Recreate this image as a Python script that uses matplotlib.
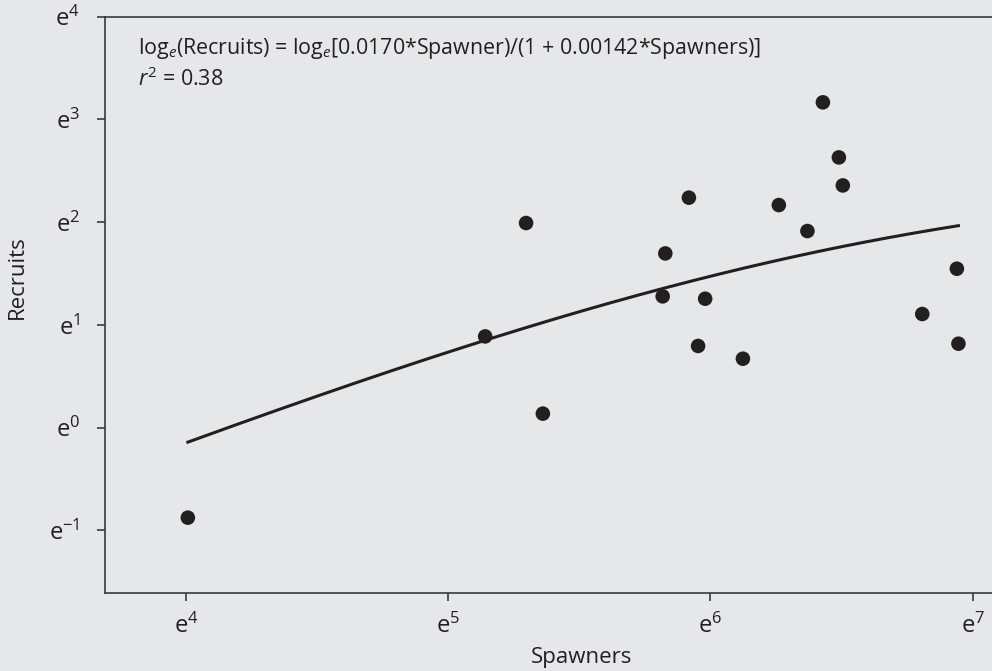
import numpy as np
import matplotlib
matplotlib.use("Agg")
import matplotlib.pyplot as plt

plt.rcParams['font.family'] = ['Open Sans', 'DejaVu Sans']
plt.rcParams['mathtext.fontset'] = 'custom'
plt.rcParams['mathtext.rm'] = 'Open Sans'
plt.rcParams['mathtext.it'] = 'Open Sans:italic'
plt.rcParams['mathtext.bf'] = 'Open Sans:bold'

ln_spawners = [4.007, 5.141, 5.297, 5.361, 5.818, 5.828, 5.918, 5.953, 5.980,
               6.124, 6.261, 6.370, 6.429, 6.490, 6.505, 6.808, 6.940, 6.946]
ln_recruits = [-0.878, 0.887, 1.991, 0.135, 1.277, 1.695, 2.238, 0.794, 1.254,
               0.670, 2.166, 1.913, 3.166, 2.630, 2.357, 1.105, 1.546, 0.816]

# fitted Beverton-Holt coefficients (as printed on the chart)
a_coef = 0.0170
b_coef = 0.00142

x_ticks = [4, 5, 6, 7]
y_ticks = [-1, 0, 1, 2, 3, 4]

bg = '#e6e7e8'
ink = '#231f20'

fig = plt.figure(figsize=(9.92, 6.71), dpi=100, facecolor=bg)
W, H = 992, 671
ax = fig.add_axes([105 / W, 1 - 592.7 / H, 952 / W, 576 / H], facecolor=bg)

S = np.exp(np.linspace(min(ln_spawners), max(ln_spawners), 200))
R = a_coef * S / (1 + b_coef * S)
ax.plot(np.log(S), np.log(R), color=ink, lw=2.2, zorder=2)
ax.scatter(ln_spawners, ln_recruits, s=110, color=ink, edgecolors='none', zorder=3)

ax.set_xlim(4 - 81 / 262.2, 4 + 871 / 262.2)
ax.set_ylim(4 - 576 / 102.7, 4)

ax.set_xticks(x_ticks)
ax.set_xticklabels([r'$\mathrm{e}^{%d}$' % t for t in x_ticks])
ax.set_yticks(y_ticks)
ax.set_yticklabels([r'$\mathrm{e}^{%d}$' % t for t in y_ticks])
ax.tick_params(axis='both', direction='out', length=6, width=1.2, color='#3a3a3a',
               labelsize=17, labelcolor=ink)
ax.tick_params(axis='x', pad=9)
ax.tick_params(axis='y', pad=12)
for lab in ax.get_yticklabels():
    lab.set_va('center_baseline')

for side in ['left', 'top', 'bottom']:
    ax.spines[side].set_color('#3a3a3a')
    ax.spines[side].set_linewidth(1.2)
ax.spines['right'].set_visible(False)

fig.text(17 / W, 1 - 277.5 / H, 'Recruits', rotation=90, ha='center', va='center',
         fontsize=16, color=ink)
fig.text(581 / W, 1 - 657 / H, 'Spawners', ha='center', va='center',
         fontsize=16, color=ink)

fig.text(138 / W, 1 - 54.3 / H,
         r'$\mathrm{log}_{e}$(Recruits) = $\mathrm{log}_{e}$[0.0170*Spawner)/(1 + 0.00142*Spawners)]',
         ha='left', va='baseline', fontsize=15.4, color=ink)
fig.text(138 / W, 1 - 85.5 / H, r'$r^{2}$ = 0.38', ha='left', va='baseline',
         fontsize=15.4, color=ink)

fig.savefig('out.png', dpi=100, facecolor=bg)
